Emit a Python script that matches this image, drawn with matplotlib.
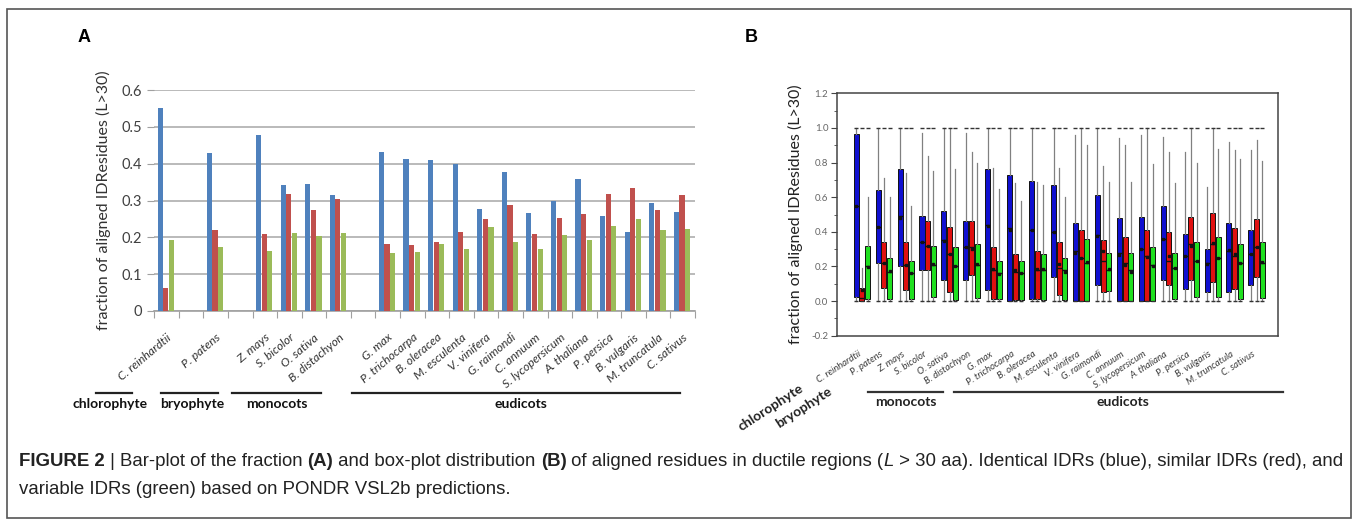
import matplotlib.pyplot as plt
import numpy as np
from matplotlib.patches import Rectangle

plt.rcParams['font.family'] = ['Lato', 'DejaVu Sans']

species = ["C. reinhardtii", "P. patens", "Z. mays", "S. bicolor", "O. sativa",
           "B. distachyon", "G. max", "P. trichocarpa", "B. oleracea", "M. esculenta",
           "V. vinifera", "G. raimondi", "C. annuum", "S. lycopersicum", "A. thaliana",
           "P. persica", "B. vulgaris", "M. truncatula", "C. sativus"]
groups = ["chlorophyte", "bryophyte", "monocots", "eudicots"]
group_of = [0, 1, 2, 2, 2, 2] + [3] * 13

# panel A: fraction of aligned residues
identical = [0.550, 0.430, 0.477, 0.341, 0.346, 0.314, 0.432, 0.412, 0.410, 0.398,
             0.278, 0.378, 0.267, 0.300, 0.358, 0.259, 0.214, 0.293, 0.269]
similar = [0.063, 0.221, 0.210, 0.318, 0.274, 0.303, 0.183, 0.178, 0.187, 0.214,
           0.249, 0.287, 0.208, 0.253, 0.263, 0.318, 0.335, 0.274, 0.314]
variable = [0.194, 0.174, 0.162, 0.212, 0.203, 0.212, 0.158, 0.161, 0.183, 0.169,
            0.228, 0.187, 0.168, 0.205, 0.192, 0.232, 0.250, 0.221, 0.223]

# panel B: box statistics (q1, median, q3, upper whisker)
blue_q1 = [0.025, 0.22, 0.20, 0.18, 0.12, 0.12, 0.065, 0.0, 0.01, 0.14, 0.0, 0.09, 0.0, 0.0, 0.12, 0.07, 0.055, 0.055, 0.09]
blue_med = [0.55, 0.43, 0.49, 0.34, 0.35, 0.31, 0.44, 0.42, 0.41, 0.40, 0.29, 0.38, 0.28, 0.30, 0.36, 0.26, 0.22, 0.29, 0.27]
blue_q3 = [0.965, 0.64, 0.76, 0.49, 0.52, 0.465, 0.76, 0.73, 0.695, 0.67, 0.45, 0.61, 0.48, 0.485, 0.55, 0.39, 0.30, 0.45, 0.41]
blue_hi = [1.0, 1.0, 1.0, 0.97, 1.0, 0.97, 1.0, 1.0, 1.0, 1.0, 0.96, 1.0, 0.94, 0.96, 0.95, 0.86, 0.66, 0.92, 0.875]

red_q1 = [0.0, 0.075, 0.065, 0.18, 0.05, 0.15, 0.01, 0.005, 0.01, 0.035, 0.0, 0.055, 0.0, 0.0, 0.09, 0.12, 0.11, 0.07, 0.14]
red_med = [0.02, 0.22, 0.21, 0.32, 0.27, 0.31, 0.18, 0.17, 0.18, 0.19, 0.25, 0.23, 0.22, 0.26, 0.23, 0.33, 0.33, 0.26, 0.31]
red_q3 = [0.073, 0.34, 0.34, 0.46, 0.43, 0.46, 0.31, 0.27, 0.29, 0.34, 0.41, 0.35, 0.37, 0.41, 0.40, 0.485, 0.51, 0.42, 0.475]
red_hi = [0.19, 0.71, 0.74, 0.835, 1.0, 0.86, 0.77, 0.68, 0.69, 0.77, 1.0, 0.78, 0.90, 1.0, 0.86, 1.0, 1.0, 0.875, 0.93]

green_q1 = [0.01, 0.01, 0.01, 0.025, 0.005, 0.02, 0.01, 0.005, 0.005, 0.005, 0.0, 0.06, 0.0, 0.0, 0.01, 0.025, 0.025, 0.01, 0.015]
green_med = [0.20, 0.17, 0.16, 0.21, 0.20, 0.21, 0.16, 0.16, 0.18, 0.18, 0.22, 0.18, 0.18, 0.21, 0.19, 0.23, 0.25, 0.22, 0.22]
green_q3 = [0.32, 0.25, 0.23, 0.32, 0.31, 0.33, 0.23, 0.23, 0.27, 0.25, 0.36, 0.28, 0.28, 0.31, 0.28, 0.34, 0.37, 0.33, 0.34]
green_hi = [0.60, 0.60, 0.55, 0.75, 0.765, 0.80, 0.65, 0.58, 0.67, 0.60, 0.90, 0.69, 0.685, 0.79, 0.68, 0.80, 0.88, 0.82, 0.81]

W, H = 1357, 525
fig = plt.figure(figsize=(W / 100, H / 100), dpi=100)


def px_box(l, t, r, b):
    return [l / W, 1 - b / H, (r - l) / W, (b - t) / H]


fig.patches.append(Rectangle((7 / W, 1 - 518 / H), 1344 / W, 509 / H, transform=fig.transFigure,
                             fill=False, edgecolor='#555555', lw=1.2))

# ---------------- panel A ----------------
axA = fig.add_axes(px_box(154.3, 90, 695, 311))
slots = np.arange(len(species)) + np.array(group_of)
centers = slots + 0.5
colsA = ['#4F81BD', '#C0504D', '#9BBB59']
for k, (vals, c) in enumerate(zip([identical, similar, variable], colsA)):
    axA.bar(centers - 0.03 + (k - 1) * 0.23, vals, width=0.21, color=c, zorder=3)

axA.set_xlim(0, slots[-1] + 1)
axA.set_ylim(0, 0.6)
axA.set_yticks(np.arange(0, 0.61, 0.1))
axA.set_yticklabels(['0', '0.1', '0.2', '0.3', '0.4', '0.5', '0.6'])
axA.yaxis.grid(True, color='#b4b4b4', lw=1.3)
axA.set_axisbelow(True)
for s in ['left', 'top', 'right']:
    axA.spines[s].set_visible(False)
axA.spines['bottom'].set_color('#a0a0a0')
axA.spines['bottom'].set_linewidth(1.2)
axA.set_xticks(np.arange(0, slots[-1] + 2))
axA.set_xticklabels([])
axA.tick_params(axis='x', which='major', length=5, color='#a0a0a0')
axA.set_xticks(centers, minor=True)
axA.set_xticklabels(species, minor=True, rotation=40, ha='right', rotation_mode='anchor',
                    fontstyle='italic', fontsize=8.7, color='#333333')
axA.tick_params(axis='x', which='minor', length=0, pad=15)
axA.tick_params(axis='y', length=5, color='#a0a0a0', labelcolor='#404040', labelsize=10.5, pad=4)
axA.set_ylabel('fraction of aligned IDResidues (L>30)', fontsize=11.5, color='#333333', labelpad=7)

spansA = [(-2.37, -0.91), (0.27, 2.59), (3.16, 6.78), (8.04, 21.37)]
textA = [-1.8, 1.53, 4.99, 14.9]
for g, (a, b), tx in zip(groups, spansA, textA):
    axA.plot([a, b], [-0.371, -0.371], transform=axA.get_xaxis_transform(), clip_on=False,
             color='#222222', lw=1.6)
    axA.text(tx, -0.423, g, transform=axA.get_xaxis_transform(), ha='center', va='center',
             fontsize=10, fontweight='bold', color='#111111')

fig.text(78 / W, 1 - 38 / H, 'A', fontsize=13, fontweight='bold', family='Liberation Sans', va='center')
fig.text(745 / W, 1 - 38 / H, 'B', fontsize=13, fontweight='bold', family='Liberation Sans', va='center')

# ---------------- panel B ----------------
axB = fig.add_axes(px_box(836.7, 93.3, 1278.3, 335.7))
pos = np.arange(1, len(species) + 1)
colsB = ['#1010D0', '#E01010', '#20E020']
boxsets = [(blue_q1, blue_med, blue_q3, blue_hi, identical),
           (red_q1, red_med, red_q3, red_hi, similar),
           (green_q1, green_med, green_q3, green_hi, variable)]
for k, ((q1, med, q3, hi, mean), c) in enumerate(zip(boxsets, colsB)):
    stats = [dict(q1=a, med=m, q3=b, whislo=0.0, whishi=h, mean=mu, fliers=[0.0, 1.0])
             for a, m, b, h, mu in zip(q1, med, q3, hi, mean)]
    axB.bxp(stats, positions=pos + (k - 1) * 0.26, widths=0.23, patch_artist=True,
            showmeans=True, showcaps=False,
            boxprops=dict(facecolor=c, edgecolor='#111111', lw=0.7),
            medianprops=dict(color='#111111', lw=1.0),
            whiskerprops=dict(color='#808080', lw=0.9),
            meanprops=dict(marker='s', markersize=1.8, markerfacecolor='#111111',
                           markeredgecolor='#111111'),
            flierprops=dict(marker='_', markersize=3, markeredgecolor='#333333', mew=1.0),
            manage_ticks=False)

axB.set_xlim(-0.15, 19.99)
axB.set_ylim(-0.2, 1.2)
axB.set_yticks(np.arange(-0.2, 1.21, 0.2))
axB.set_yticklabels([f'{v:.1f}' for v in np.arange(-0.2, 1.21, 0.2)])
axB.set_yticks(np.arange(-0.1, 1.2, 0.2), minor=True)
axB.tick_params(axis='y', which='major', direction='out', length=4, color='#444444',
                labelsize=7, labelcolor='#666666', pad=2)
axB.tick_params(axis='y', which='minor', direction='out', length=2, color='#444444')
for s in axB.spines.values():
    s.set_color('#444444')
    s.set_linewidth(1.1)
axB.set_xticks(pos - 0.2)
axB.set_xticklabels(species, rotation=33, ha='right', rotation_mode='anchor',
                    fontstyle='italic', fontsize=6.8, color='#3a3a3a')
axB.tick_params(axis='x', length=0, pad=10)
axB.set_ylabel('fraction of aligned IDResidues (L>30)', fontsize=11.5, color='#222222', labelpad=6)

tB = axB.get_xaxis_transform()
for g, (a, b), tx in zip(groups[2:], [(1.27, 4.69), (5.2, 20.2)], [3.0, 12.9]):
    axB.plot([a, b], [-0.232, -0.232], transform=tB, clip_on=False, color='#333333', lw=1.6)
    axB.text(tx, -0.274, g, transform=tB, ha='center', va='center', fontsize=10,
             fontweight='bold', color='#222222')
for g, tx in zip(groups[:2], [-3.15, -1.64]):
    axB.text(tx, -0.298, g, transform=tB, ha='center', va='center', rotation=33,
             fontsize=10, fontweight='bold', color='#222222')

# ---------------- caption ----------------
cap = fig.add_axes([0, 0, 1, 1])
cap.axis('off')
cap.set_zorder(-1)
capfont = ['Liberation Sans', 'DejaVu Sans']
line1 = [("FIGURE 2", 'bold', 'normal'), (" | Bar-plot of the fraction ", 'normal', 'normal'),
         ("(A)", 'bold', 'normal'), (" and box-plot distribution ", 'normal', 'normal'),
         ("(B)", 'bold', 'normal'), (" of aligned residues in ductile regions (", 'normal', 'normal'),
         ("L", 'normal', 'italic'),
         (" > 30 aa). Identical IDRs (blue), similar IDRs (red), and", 'normal', 'normal')]
line2 = [("variable IDRs (green) based on PONDR VSL2b predictions.", 'normal', 'normal')]
for y, pieces in [(1 - 470 / H, line1), (1 - 498 / H, line2)]:
    prev = None
    for txt, wt, st in pieces:
        kw = dict(fontsize=13.4, fontweight=wt, fontstyle=st, family=capfont, color='#222222',
                  va='bottom', ha='left')
        if prev is None:
            prev = cap.text(19 / W, y, txt, transform=fig.transFigure, **kw)
        else:
            prev = cap.annotate(txt, xy=(1, 0), xycoords=prev, **kw)

fig.savefig('out.png', dpi=100)
